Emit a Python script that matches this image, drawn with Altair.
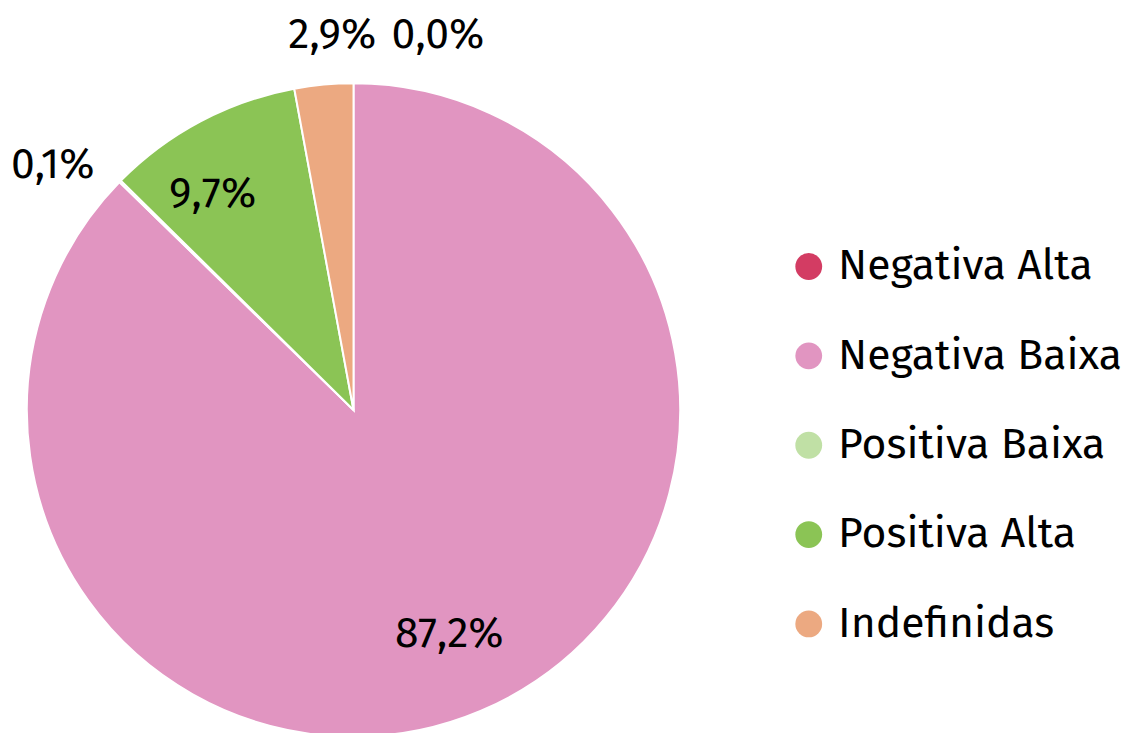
import altair as alt
import pandas as pd

categories = ["Negativa Alta", "Negativa Baixa", "Positiva Baixa", "Positiva Alta", "Indefinidas"]
values = [0.0, 87.2, 0.1, 9.7, 2.9]
colors = ["#d33c63", "#e195c1", "#c0e0a5", "#8bc455", "#eca981"]
labels = ["0,0%", "87,2%", "0,1%", "9,7%", "2,9%"]

total = sum(values)
FONT = "Fira Sans, Noto Sans, Open Sans, sans-serif"
FS = 43

df = pd.DataFrame({"cat": categories, "value": values, "idx": list(range(len(categories))), "label": labels})

theta_scale = alt.Scale(domain=[0, total])

base = alt.Chart(df).transform_window(
    cum="sum(value)", sort=[alt.SortField("idx")], frame=[None, 0]
).transform_calculate(
    start="datum.cum - datum.value",
    mid="datum.cum - datum.value / 2",
)

arc = base.mark_arc(outerRadius=329, stroke="white", strokeWidth=2).encode(
    theta=alt.Theta("start:Q", scale=theta_scale, stack=None),
    theta2="cum:Q",
    color=alt.Color(
        "cat:N",
        scale=alt.Scale(domain=categories, range=colors),
        sort=categories,
        legend=alt.Legend(
            title=None,
            orient="none",
            legendX=780,
            legendY=231,
            symbolType="circle",
            symbolSize=729,
            symbolStrokeWidth=0,
            symbolOpacity=1,
            labelFont=FONT,
            labelFontSize=FS,
            labelColor="#000000",
            labelOffset=8,
            labelLimit=500,
            rowPadding=46,
            padding=0,
        ),
    ),
)

# (label category, radius, dx, dy)
placements = [
    ("Negativa Baixa", 243, 2, 2),
    ("Positiva Alta", 243, -28, -3),
    ("Positiva Baixa", 378, -33, 18),
    ("Indefinidas", 378, 13, -1),
    ("Negativa Alta", 378, 85, 0),
]

layers = [arc]
for cat, r, dx, dy in placements:
    layers.append(
        base.transform_filter(alt.datum.cat == cat)
        .mark_text(radius=r, dx=dx, dy=dy, font=FONT, fontSize=FS, color="#000000")
        .encode(
            theta=alt.Theta("mid:Q", scale=theta_scale, stack=None),
            text="label:N",
        )
    )

chart = (
    alt.layer(*layers)
    .properties(
        width=686,
        height=794,
        autosize=alt.AutoSizeParams(type="none"),
        padding={"left": 5, "top": 5, "right": 430, "bottom": 0},
    )
    .configure_view(stroke=None)
)

chart.save("out.html", embed_options={"renderer": "svg", "actions": False})
